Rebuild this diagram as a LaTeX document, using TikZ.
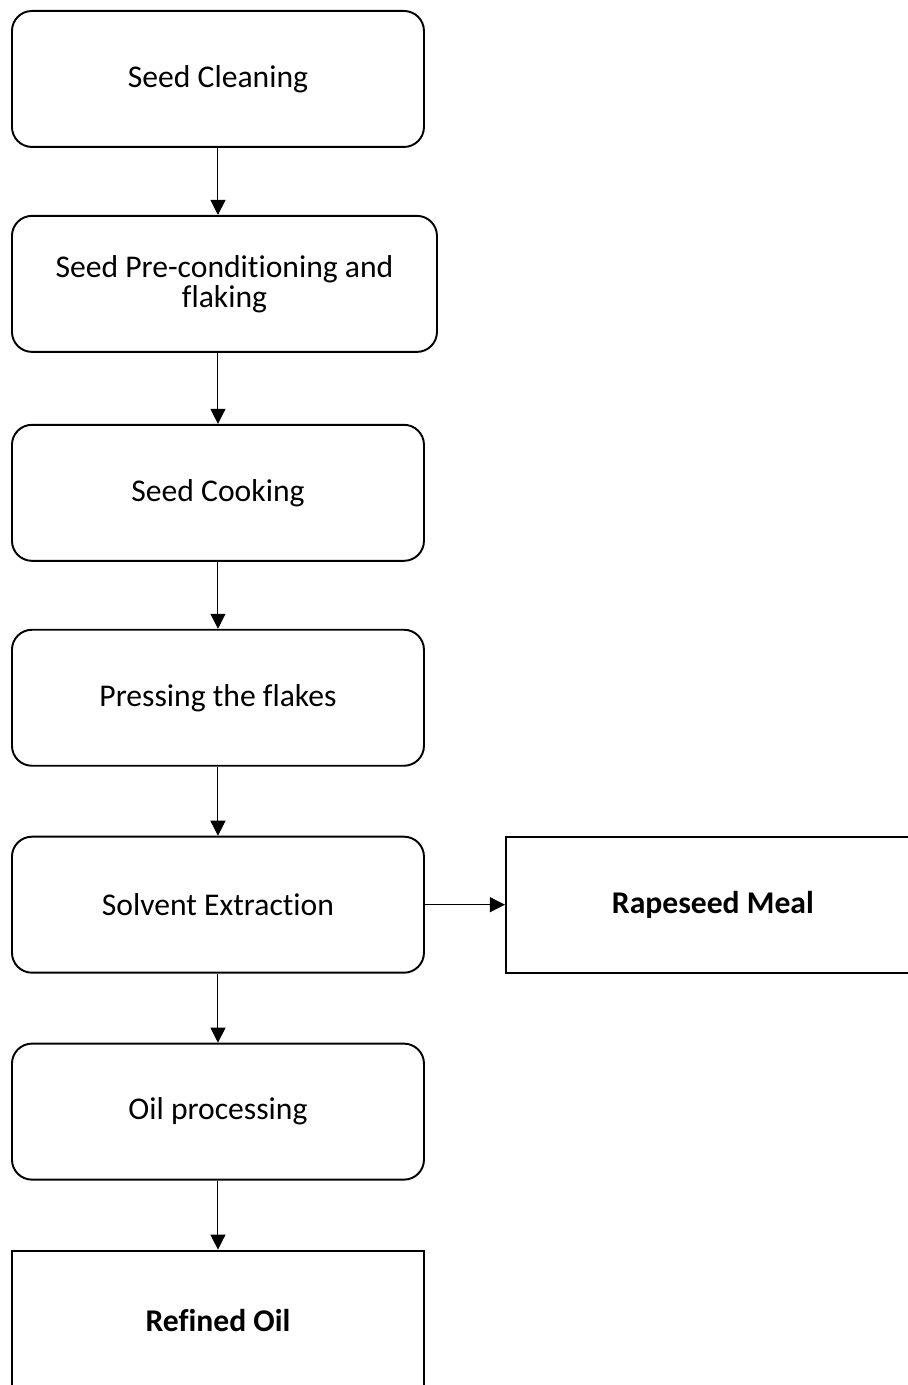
\documentclass[tikz,border=0pt]{standalone}
\usepackage{fontspec}
\setmainfont{Carlito}[Ligatures=NoCommon]
\usetikzlibrary{positioning, arrows.meta}
\tikzstyle{process} = [rectangle, rounded corners=0.4cm, minimum width=8.24cm, minimum height=2.72cm, align=center, draw=black, line width=1.1pt, font=\fontsize{18}{17}\selectfont]
\tikzstyle{product} = [rectangle, minimum width=8.28cm, minimum height=2.72cm, align=center, draw=black, line width=1.1pt, font=\fontsize{18}{17}\selectfont\bfseries]
\tikzstyle{arrow} = [line width=0.6pt, -{Triangle[length=0.3cm, width=0.3cm]}]

\begin{document}
\begin{tikzpicture}[node distance=1.4cm]
\clip (0,0) rectangle (18.16,27.7);
\node (clean) [process, anchor=north west] at (0.22,27.5) {Seed Cleaning};
\node (precond) [process, minimum width=8.5cm, below=1.34cm of clean.south west, anchor=north west] {Seed Pre-conditioning and\\flaking};
\node (cook) [process, below=1.42cm of precond.south west, anchor=north west] {Seed Cooking};
\node (press) [process, below=1.34cm of cook.south west, anchor=north west] {Pressing the flakes};
\node (solvent) [process, below=1.38cm of press.south west, anchor=north west] {Solvent Extraction};
\node (oil) [process, below=1.38cm of solvent.south west, anchor=north west] {Oil processing};
\node (refined) [product, minimum width=8.24cm, minimum height=2.8cm, below=1.38cm of oil.south west, anchor=north west] {Refined Oil};
\node (meal) [product, right=1.6cm of solvent] {Rapeseed Meal};
\draw [arrow] (clean.south) -- (clean.south |- precond.north);
\draw [arrow] (cook.north |- precond.south) -- (cook.north);
\draw [arrow] (cook) -- (press);
\draw [arrow] (press) -- (solvent);
\draw [arrow] (solvent) -- (oil);
\draw [arrow] (oil) -- (refined);
\draw [arrow] (solvent) -- (meal);
\end{tikzpicture}
\end{document}
